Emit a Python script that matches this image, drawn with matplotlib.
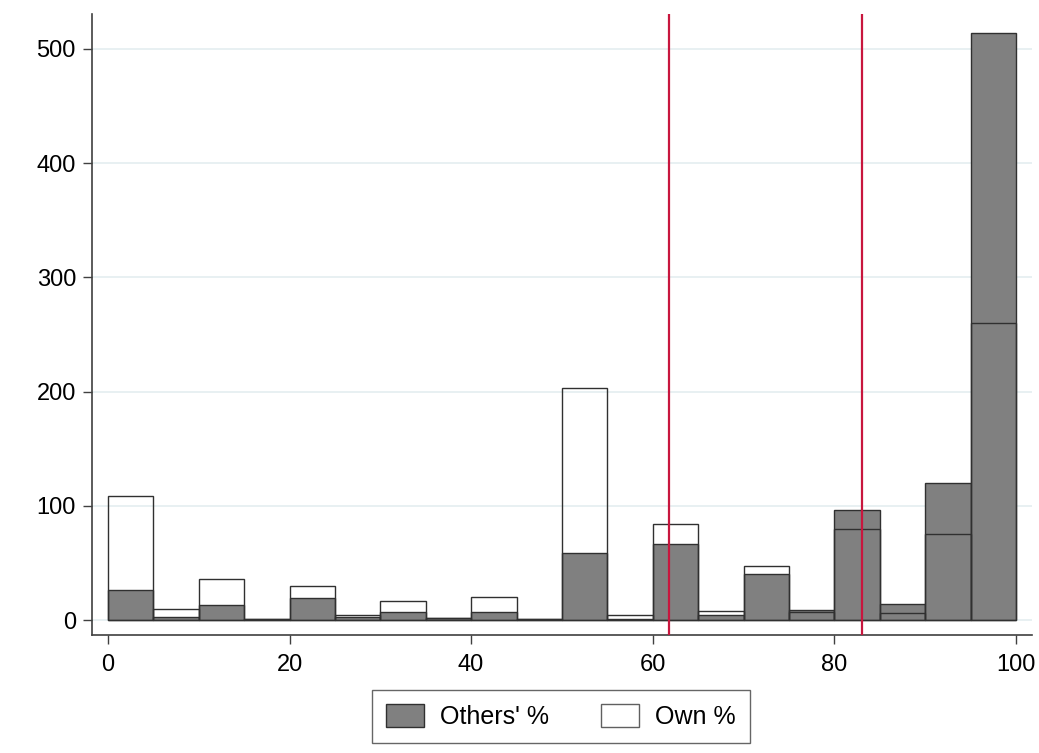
import numpy as np
import matplotlib.pyplot as plt
from matplotlib.patches import Patch

plt.rcParams['font.family'] = ['Liberation Sans', 'DejaVu Sans']

# histogram bins (width 5) and counts
bin_left = np.arange(0, 100, 5)
others = [26, 3, 13, 1, 19, 3, 7, 2, 7, 1, 59, 1, 67, 4, 40, 9, 96, 14, 120, 514]
own = [109, 10, 36, 1, 30, 4, 17, 2, 20, 1, 203, 4, 84, 8, 47, 7, 80, 6, 75, 260]
vlines = [61.8, 83.0]
yticks = [0, 100, 200, 300, 400, 500]
xticks = [0, 20, 40, 60, 80, 100]

fig = plt.figure(figsize=(10.39, 7.53), dpi=100)
ax = fig.add_axes([0.0885, 0.1567, 0.905, 0.8247])

ax.bar(bin_left, others, width=5, align='edge', color='#808080',
       edgecolor='#303030', linewidth=1.0, zorder=2)
ax.bar(bin_left, own, width=5, align='edge', facecolor='none',
       edgecolor='#303030', linewidth=1.0, zorder=3)

for v in vlines:
    ax.axvline(v, color='#c8163e', linewidth=1.6, zorder=4)

ax.set_xlim(-1.76, 101.8)
ax.set_ylim(-13.1, 530.6)
ax.set_xticks(xticks)
ax.set_yticks(yticks)
ax.tick_params(axis='both', labelsize=17, length=6.5, width=1, color='#404040')
ax.tick_params(axis='y', pad=5)
ax.tick_params(axis='x', pad=7)
ax.yaxis.grid(True, color='#e4eef0', linewidth=1.2, zorder=0)
ax.set_axisbelow(True)
for s in ['top', 'right']:
    ax.spines[s].set_visible(False)
for s in ['left', 'bottom']:
    ax.spines[s].set_color('#404040')
    ax.spines[s].set_linewidth(1.2)

handles = [Patch(facecolor='#808080', edgecolor='#303030', label="Others' %"),
           Patch(facecolor='white', edgecolor='#606060', label='Own %')]
fig.legend(handles=handles, loc='lower center', bbox_to_anchor=(0.54, 0.0133),
           borderaxespad=0, ncol=2, fontsize=18, frameon=True, fancybox=False,
           edgecolor='#404040', handlelength=1.5, handleheight=1.05,
           columnspacing=2.1, borderpad=0.55, handletextpad=0.65)

fig.savefig('out.png', dpi=100)
